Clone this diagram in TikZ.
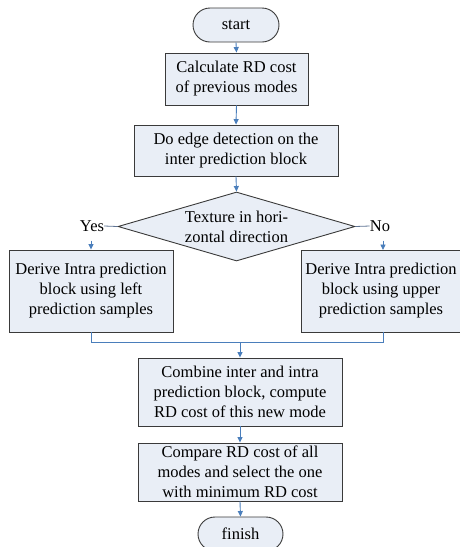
\documentclass[tikz,border=0pt]{standalone}
\usepackage{fontspec}
\setmainfont{Liberation Serif}
\usetikzlibrary{shapes.geometric,arrows.meta}
\definecolor{boxfill}{HTML}{E9EEF6}
\definecolor{boxline}{HTML}{3A3A3A}
\definecolor{arrowblue}{HTML}{4A7EBB}
\definecolor{linegray}{HTML}{5E7393}
\tikzset{
  txt/.style={font=\fontsize{16.5}{20}\selectfont, align=center},
  procbox/.style={draw=boxline, fill=boxfill, line width=0.9pt, inner sep=0pt, txt},
  term/.style={draw=boxline, fill=boxfill, line width=0.9pt, rounded corners=17pt, inner sep=0pt, txt},
  flow/.style={draw=arrowblue, line width=0.9pt, -{Triangle[length=5.5pt,width=5pt]}},
  flowline/.style={draw=arrowblue, line width=0.9pt},
  yesno/.style={draw=linegray, line width=0.8pt},
}
\begin{document}
\begin{tikzpicture}[x=1pt,y=-1pt]
\useasboundingbox (0,0) rectangle (459,547);
\node[term, minimum width=86pt, minimum height=34pt] (start) at (236,25) {start};
\node[procbox, minimum width=143pt, minimum height=52pt] (b1) at (236.5,79) {Calculate RD cost\\of previous modes};
\node[procbox, minimum width=204pt, minimum height=51pt] (b2) at (236,150.5) {Do edge detection on the\\inter prediction block};
\node[diamond, draw=boxline, fill=boxfill, line width=0.9pt, inner sep=0pt, minimum width=237pt, minimum height=69pt] (dec) at (236.5,226.5) {};
\node[txt] (dectext) at (236.5,227) {Texture in hori-\\zontal direction};
\node[txt, inner sep=0pt] (yes) at (92,226) {Yes};
\node[txt, inner sep=0pt] (no) at (380,226) {No};
\node[procbox, minimum width=164pt, minimum height=82pt] (left) at (91,291) {Derive Intra prediction\\block using left\\prediction samples};
\node[procbox, minimum width=160pt, minimum height=82pt] (right) at (381,291) {Derive Intra prediction\\block using upper\\prediction samples};
\node[procbox, minimum width=204pt, minimum height=68pt] (b3) at (240,392) {Combine inter and intra\\prediction block, compute\\RD cost of this new mode};
\node[procbox, minimum width=204pt, minimum height=58pt] (b4) at (240,472) {Compare RD cost of all\\modes and select the one\\with minimum RD cost};
\node[term, minimum width=85pt, minimum height=34pt] (finish) at (240.5,534) {finish};
\coordinate (jl) at (91,342);
\coordinate (jr) at (383,342);
\coordinate (jm) at (240,342);
\draw[flow] (start.south) -- (b1.north);
\draw[flow] (b1.south) -- (b2.north);
\draw[flow] (b2.south) -- (dec.north);
\draw[yesno] (yes.east) -- (dec.west);
\draw[yesno] (no.west) -- (dec.east);
\draw[flow] (yes.south -| left.north) ++(0,9) -- (left.north);
\draw[flow] (no.south -| 383,0) ++(0,9) -- (383,250);
\draw[flowline] (left.south) -- (jl) -- (jr) -- (383,332);
\draw[flow] (jm) -- (b3.north);
\draw[flow] (b3.south) -- (b4.north);
\draw[flow] (b4.south) -- (finish.north);
\end{tikzpicture}
\end{document}
